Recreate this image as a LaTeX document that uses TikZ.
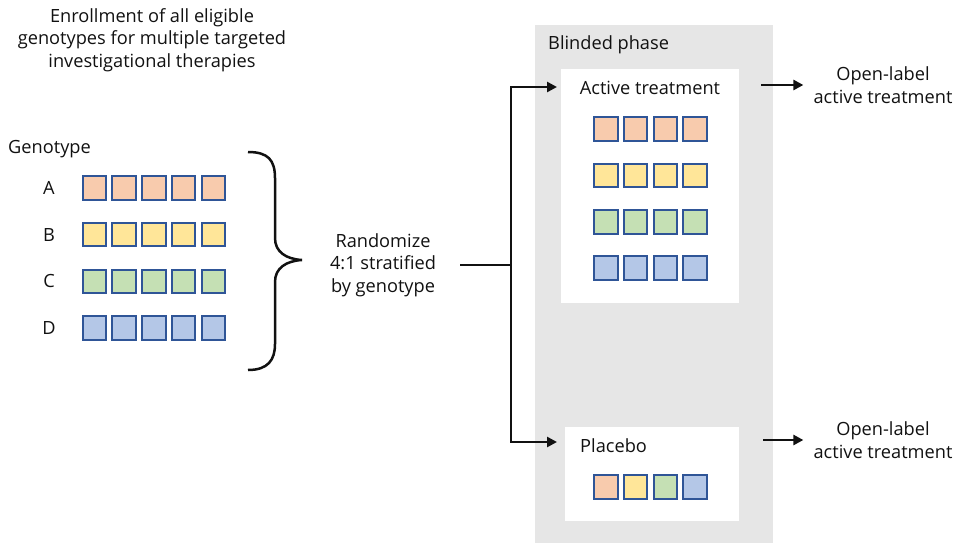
\documentclass[tikz,border=0pt]{standalone}
\usepackage{fontspec}
\setmainfont{Open Sans}
\usepackage{xcolor}
\usetikzlibrary{arrows.meta,positioning}

\definecolor{peach}{HTML}{F8CBAD}
\definecolor{yellowish}{HTML}{FFE699}
\definecolor{greenish}{HTML}{C5E0B4}
\definecolor{bluish}{HTML}{B4C7E7}
\definecolor{tileedge}{HTML}{2F5597}
\definecolor{phasegray}{HTML}{E6E6E6}
\definecolor{ink}{HTML}{111111}

\begin{document}
\begin{tikzpicture}[
    x=1pt, y=-1pt,
    every node/.style={font=\fontsize{18.2}{22.5}\selectfont, text=ink},
    txt/.style={align=center, inner sep=0pt},
    tile/.style={rectangle,draw=tileedge,line width=2pt,minimum size=23.5pt,inner sep=0pt},
    panel/.style={rectangle,fill=white,inner sep=0pt},
    arrow/.style={-{Triangle[length=10pt,width=10pt]},line width=2.5pt,draw=ink},
    thickline/.style={line width=2.5pt,draw=ink}
]
\useasboundingbox (0,0) rectangle (958,543);

% blinded phase background and arms
\node[rectangle,fill=phasegray,minimum width=238pt,minimum height=518pt,inner sep=0pt,anchor=north west] (phase) at (535,25) {};
\node[txt,anchor=west] (phaselbl) at (548,45) {Blinded phase};
\node[panel,minimum width=178pt,minimum height=234pt,anchor=north west] (active) at (561,69) {};
\node[txt] (actlbl) at (650,88) {Active treatment};
\node[panel,minimum width=174pt,minimum height=94pt,anchor=north west] (placebo) at (565,427) {};
\node[txt,anchor=west] (plalbl) at (580,446) {Placebo};

% enrollment
\node[txt] (enroll) at (152,40) {Enrollment of all eligible\\genotypes for multiple targeted\\investigational therapies};
\node[txt,anchor=west] (geno) at (8,149) {Genotype};

\foreach \g/\c [count=\i from 0] in {A/peach,B/yellowish,C/greenish,D/bluish} {
  \node[txt] (lbl\g) at (49,188+46.7*\i) {\g};
  \foreach \j in {0,...,4}
    \node[tile,fill=\c] (g\g\j) at (94.5+29.7*\j,188+46.7*\i) {};
  \foreach \j in {0,...,3}
    \node[tile,fill=\c] (a\g\j) at (606+29.7*\j,129+46.4*\i) {};
  \node[tile,fill=\c] (p\g) at (606+29.7*\i,487) {};
}

% brace
\draw[thickline] (248,152) .. controls (268,152) and (275,160) .. (275,178) -- (275,238)
  .. controls (275,252) and (286,259) .. (302,260)
  .. controls (286,261) and (275,268) .. (275,282) -- (275,344)
  .. controls (275,360) and (268,370) .. (248,370);

\node[txt,minimum width=154pt] (rand) at (383,265) {Randomize\\4:1 stratified\\by genotype};

% outcomes
\node[txt,inner sep=10pt] (opena) at (883,85) {Open-label\\active treatment};
\node[txt,inner sep=10pt] (openp) at (883,440) {Open-label\\active treatment};

\coordinate (fork) at (511,265);
\coordinate (actin) at (557,87);
\coordinate (plain) at (557,442);
\coordinate (actout) at (761,85);
\coordinate (plaout) at (763,440);

\draw[thickline] (rand.east) -- (fork);
\draw[arrow] (fork) |- (actin);
\draw[arrow] (fork) |- (plain);
\draw[arrow] (actout) -- (opena.west);
\draw[arrow] (plaout) -- (openp.west);
\end{tikzpicture}
\end{document}
